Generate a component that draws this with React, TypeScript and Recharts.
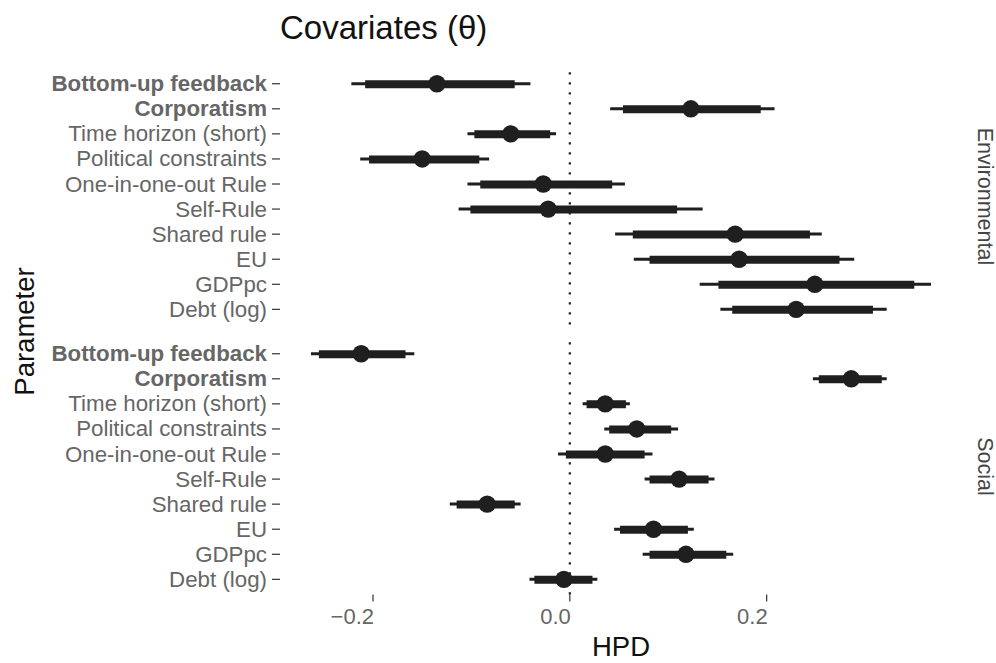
import React from "react";
import {
  ComposedChart,
  Bar,
  Line,
  XAxis,
  YAxis,
  ReferenceLine,
} from "recharts";

const params = [
  "Bottom-up feedback",
  "Corporatism",
  "Time horizon (short)",
  "Political constraints",
  "One-in-one-out Rule",
  "Self-Rule",
  "Shared rule",
  "EU",
  "GDPpc",
  "Debt (log)",
];
const boldParams = ["Bottom-up feedback", "Corporatism"];

const envEst = [-0.135, 0.123, -0.06, -0.15, -0.027, -0.022, 0.168, 0.172, 0.249, 0.23];
const envInnerLo = [-0.208, 0.054, -0.097, -0.204, -0.091, -0.101, 0.064, 0.081, 0.151, 0.165];
const envInnerHi = [-0.056, 0.194, -0.02, -0.092, 0.043, 0.109, 0.244, 0.274, 0.35, 0.308];
const envOuterLo = [-0.222, 0.041, -0.104, -0.213, -0.104, -0.113, 0.046, 0.065, 0.132, 0.153];
const envOuterHi = [-0.04, 0.208, -0.014, -0.082, 0.056, 0.135, 0.256, 0.289, 0.367, 0.322];

const socEst = [-0.212, 0.286, 0.036, 0.068, 0.036, 0.111, -0.084, 0.085, 0.118, -0.006];
const socInnerLo = [-0.255, 0.253, 0.017, 0.04, -0.004, 0.081, -0.115, 0.051, 0.081, -0.036];
const socInnerHi = [-0.167, 0.317, 0.057, 0.103, 0.076, 0.141, -0.056, 0.12, 0.159, 0.023];
const socOuterLo = [-0.263, 0.247, 0.013, 0.035, -0.012, 0.076, -0.122, 0.045, 0.074, -0.041];
const socOuterHi = [-0.158, 0.322, 0.061, 0.11, 0.084, 0.147, -0.05, 0.126, 0.166, 0.028];

const xTicks = [-0.2, 0, 0.2];
const xDomain = [-0.2945, 0.3985];

const FONT = "'Liberation Sans', Arial, Helvetica, sans-serif";
const INK = "#1f1f1f";
const LABEL = "#666666";
const TICK = "#333333";

function buildRows(est: number[], iLo: number[], iHi: number[], oLo: number[], oHi: number[]) {
  return params.map((p, i) => ({
    name: p,
    est: est[i],
    inner: [iLo[i], iHi[i]],
    outer: [oLo[i], oHi[i]],
  }));
}

const envRows = buildRows(envEst, envInnerLo, envInnerHi, envOuterLo, envOuterHi);
const socRows = buildRows(socEst, socInnerLo, socInnerHi, socOuterLo, socOuterHi);

const YTick = (props: any) => {
  const { x, y, payload } = props;
  const bold = boldParams.includes(payload.value);
  return (
    <text
      x={x}
      y={y}
      textAnchor="end"
      dominantBaseline="central"
      fontFamily={FONT}
      fontSize={22.3}
      fontWeight={bold ? "bold" : "normal"}
      fill={LABEL}
    >
      {payload.value}
    </text>
  );
};

const fmtX = (v: number) => (v < 0 ? "\u2212" + Math.abs(v).toFixed(1) : v.toFixed(1));

const XTick = (props: any) => {
  const { x, y, payload } = props;
  return (
    <text
      x={x + 1}
      y={y}
      dy="0.72em"
      textAnchor="end"
      fontFamily={FONT}
      fontSize={22}
      fill={LABEL}
    >
      {fmtX(payload.value)}
    </text>
  );
};

function Panel({ rows, showX, height, margin }: { rows: any[]; showX: boolean; height: number; margin: any }) {
  return (
    <ComposedChart width={996} height={height} data={rows} layout="vertical" margin={margin}>
      <XAxis
        type="number"
        domain={xDomain}
        ticks={xTicks}
        allowDataOverflow
        hide={!showX}
        height={40}
        axisLine={false}
        tickLine={{ stroke: TICK, strokeWidth: 1.2 }}
        tickSize={7}
        tickMargin={7}
        tick={<XTick />}
      />
      <YAxis
        yAxisId="main"
        type="category"
        dataKey="name"
        width={280}
        axisLine={false}
        tickLine={{ stroke: TICK, strokeWidth: 1.2 }}
        tickSize={8}
        tickMargin={5}
        padding={{ top: 2.5, bottom: 2.5 }}
        interval={0}
        tick={<YTick />}
      />
      <YAxis
        yAxisId="aux"
        type="category"
        dataKey="name"
        hide
        width={0}
        padding={{ top: 2.5, bottom: 2.5 }}
      />
      <ReferenceLine
        x={0}
        yAxisId="main"
        stroke={INK}
        strokeWidth={2.2}
        strokeDasharray="2.2 7.8"
      />
      <Bar yAxisId="aux" dataKey="outer" barSize={3} fill={INK} isAnimationActive={false} />
      <Bar yAxisId="main" dataKey="inner" barSize={8} fill={INK} isAnimationActive={false} />
      <Line
        yAxisId="main"
        dataKey="est"
        stroke="none"
        dot={{ r: 8.7, fill: INK, stroke: "none" }}
        activeDot={false}
        isAnimationActive={false}
      />
    </ComposedChart>
  );
}

export default function App() {
  return (
    <div style={{ position: "absolute", left: 0, top: 0, width: 996, height: 663, background: "#fff" }}>
      <div style={{ position: "absolute", left: 0, top: 0 }}>
        <Panel rows={envRows} showX={false} height={330} margin={{ top: 68.7, right: 34, bottom: 5.6, left: 0 }} />
      </div>
      <div style={{ position: "absolute", left: 0, top: 330 }}>
        <Panel rows={socRows} showX={true} height={333} margin={{ top: 8.7, right: 34, bottom: 28.6, left: 0 }} />
      </div>
      <svg
        width={996}
        height={663}
        style={{ position: "absolute", left: 0, top: 0, pointerEvents: "none" }}
      >
        <text x={280} y={27} dominantBaseline="central" fontFamily={FONT} fontSize={33} fill="#111">
          Covariates (θ)
        </text>
        <text x={621} y={646} textAnchor="middle" dominantBaseline="central" fontFamily={FONT} fontSize={27.5} fill="#111">
          HPD
        </text>
        <text
          x={24}
          y={331.5}
          textAnchor="middle"
          dominantBaseline="central"
          fontFamily={FONT}
          fontSize={27.5}
          fill="#111"
          transform="rotate(-90 24 331.5)"
        >
          Parameter
        </text>
        <text
          x={985}
          y={196.5}
          textAnchor="middle"
          dominantBaseline="central"
          fontFamily={FONT}
          fontSize={21.5}
          fill="#444"
          transform="rotate(90 985 196.5)"
        >
          Environmental
        </text>
        <text
          x={985}
          y={466.5}
          textAnchor="middle"
          dominantBaseline="central"
          fontFamily={FONT}
          fontSize={21.5}
          fill="#444"
          transform="rotate(90 985 466.5)"
        >
          Social
        </text>
      </svg>
    </div>
  );
}
